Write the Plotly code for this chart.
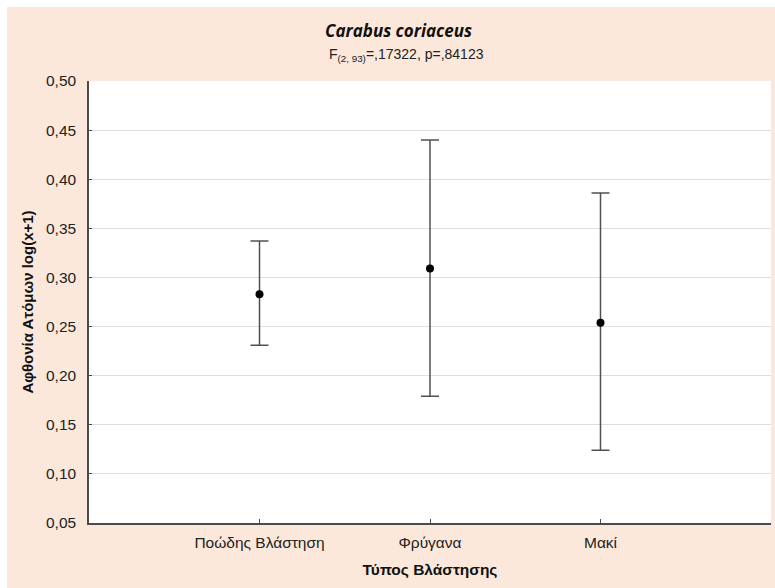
import plotly.graph_objects as go

# Vegetation types and abundance statistics (mean with confidence interval)
categories = ["Ποώδης Βλάστηση", "Φρύγανα", "Μακί"]
means = [0.283, 0.309, 0.254]
upper = [0.337, 0.440, 0.386]
lower = [0.231, 0.179, 0.124]

y_ticks = [0.05, 0.10, 0.15, 0.20, 0.25, 0.30, 0.35, 0.40, 0.45, 0.50]

positions = list(range(1, len(categories) + 1))
err_plus = [u - m for u, m in zip(upper, means)]
err_minus = [m - l for m, l in zip(means, lower)]

BEIGE = "#FBE8DA"
AXIS = "#4a4a4a"
FONT = "Liberation Sans, Arial, sans-serif"

fig = go.Figure()
fig.add_trace(go.Scatter(
    x=positions, y=means, mode="markers",
    marker=dict(color="black", size=8),
    error_y=dict(type="data", symmetric=False, array=err_plus, arrayminus=err_minus,
                 color="#505050", thickness=1.5, width=9),
    showlegend=False,
    hoverinfo="skip",
))

W, H = 775, 588
L, R, T, B = 89, 4, 81, 65
pw, ph = W - L - R, H - T - B

def px_x(p):
    return (p - L) / pw

def px_y(p):
    return 1 - (p - T) / ph

shapes = [
    # thin white frame strips along the left and top edges
    dict(type="rect", xref="paper", yref="paper", x0=px_x(0), x1=px_x(7), y0=px_y(H), y1=px_y(0),
         fillcolor="white", line=dict(width=0), layer="above"),
    dict(type="rect", xref="paper", yref="paper", x0=px_x(0), x1=px_x(W), y0=px_y(7), y1=px_y(0),
         fillcolor="white", line=dict(width=0), layer="above"),
]

fig.update_layout(
    width=W, height=H,
    margin=dict(l=L, r=R, t=T, b=B),
    paper_bgcolor=BEIGE,
    plot_bgcolor="white",
    separators=", ",
    font=dict(family=FONT, size=15, color="#222"),
    shapes=shapes,
    annotations=[
        dict(text="<b><i>Carabus coriaceus</i></b>", xref="paper", yref="paper",
             x=px_x(398), y=px_y(31), xanchor="center", yanchor="middle", showarrow=False,
             font=dict(family="Open Sans, sans-serif", size=17, color="#111")),
        dict(text="F<sub>(2, 93)</sub>=,17322, p=,84123", xref="paper", yref="paper",
             x=px_x(406), y=px_y(55), xanchor="center", yanchor="middle", showarrow=False,
             font=dict(family=FONT, size=14, color="#222")),
    ],
    xaxis=dict(
        range=[0, 4],
        tickvals=[1, 2, 3, 4],
        ticktext=categories + [""],
        ticks="inside", ticklen=4, tickcolor=AXIS, tickwidth=1,
        showline=True, linecolor=AXIS, linewidth=1.5,
        showgrid=False, zeroline=False,
        ticklabelstandoff=5,
        tickfont=dict(family=FONT, size=15.5, color="#222"),
        title=dict(text="<b>Τύπος Βλάστησης</b>", font=dict(family=FONT, size=15.5, color="#111"),
                   standoff=14),
    ),
    yaxis=dict(
        range=[0.05, 0.50],
        tickvals=y_ticks,
        tickformat=".2f",
        ticks="inside", ticklen=3, tickcolor=AXIS,
        showline=True, linecolor=AXIS, linewidth=1.5,
        showgrid=True, gridcolor="#dedede", gridwidth=1,
        zeroline=False,
        ticklabelstandoff=8,
        tickfont=dict(family=FONT, size=15.5, color="#222"),
        title=dict(text="<b>Αφθονία Ατόμων log(x+1)</b>", font=dict(family=FONT, size=15, color="#111"),
                   standoff=9),
    ),
)

fig.write_html("out.html")
